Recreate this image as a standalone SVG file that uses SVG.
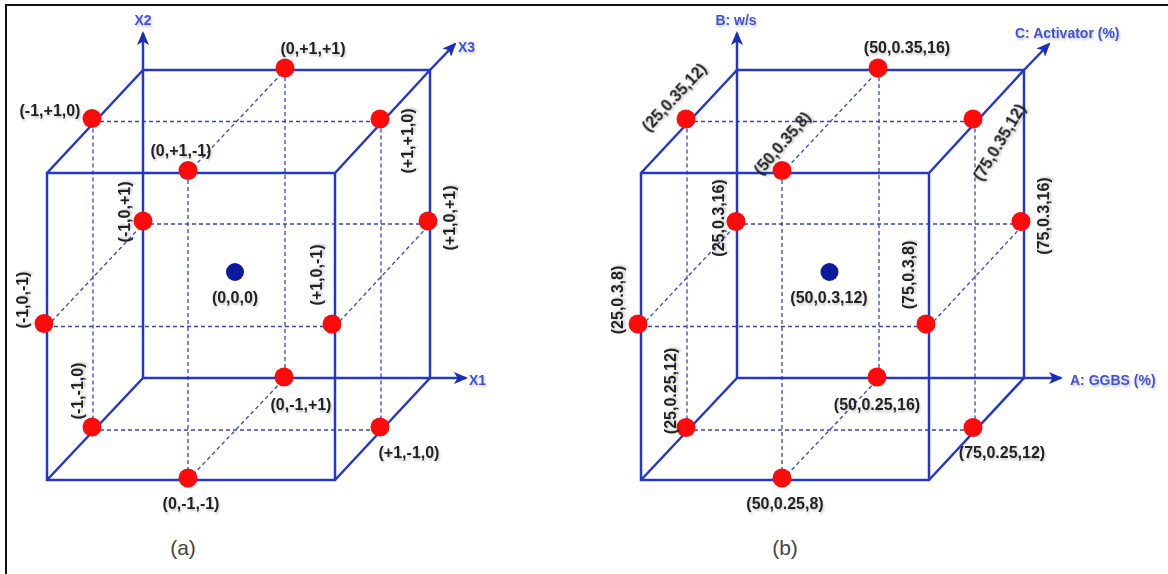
<svg xmlns="http://www.w3.org/2000/svg" width="1168" height="574" viewBox="0 0 1168 574">
  <style>
    .edge { stroke: #2438c8; stroke-width: 2.5; fill: none; stroke-linecap: round; }
    .axis { stroke: #2438c8; stroke-width: 2.5; fill: none; marker-end: url(#arrow); }
    .grid { stroke: #3545c0; stroke-width: 1.3; stroke-dasharray: 4 3; fill: none; }
    .pt { fill: #ff0a0a; }
    .mid { fill: #0c1a9c; }
    .lbl { font-family: "Liberation Sans", Arial, sans-serif; font-size: 16px; font-weight: bold; fill: #222; text-anchor: middle; filter: url(#soft); }
    .ax { font-family: "Liberation Sans", Arial, sans-serif; font-size: 14px; font-weight: bold; fill: #3f51d9; filter: url(#soft); }
    .cap { font-family: "Liberation Sans", Arial, sans-serif; font-size: 21px; fill: #444; text-anchor: middle; }
  </style>
  <defs>
    <marker id="arrow" viewBox="0 0 14 12" refX="12" refY="6" markerWidth="14" markerHeight="12" markerUnits="userSpaceOnUse" orient="auto">
      <path d="M0,0 L14,6 L0,12 L3.5,6 z" fill="#1a2db8"/>
    </marker>
    <filter id="soft" x="-20%" y="-40%" width="140%" height="200%">
      <feDropShadow dx="1" dy="2" stdDeviation="1.2" flood-color="#000" flood-opacity="0.22"/>
    </filter>
  </defs>

  <rect width="1168" height="574" fill="#fff"/>
  <!-- outer frame: left and top rules -->
  <path d="M6,574 L6,5 L1168,5" fill="none" stroke="#111" stroke-width="2"/>

  <!-- ===== cube (a) ===== -->
  <g id="connectors-a">
    <g class="grid">
      <line x1="93" y1="121.5" x2="381" y2="121.5"/>
      <line x1="143" y1="224" x2="430" y2="224"/>
      <line x1="47" y1="326.5" x2="335" y2="326.5"/>
      <line x1="93" y1="430" x2="381" y2="430"/>
      <line x1="93" y1="121.5" x2="93" y2="430"/>
      <line x1="381" y1="121.5" x2="381" y2="430"/>
      <line x1="188" y1="173" x2="188" y2="480"/>
      <line x1="285" y1="70" x2="285" y2="378"/>
      <line x1="188" y1="173" x2="285" y2="70"/>
      <line x1="47" y1="326.5" x2="143" y2="224"/>
      <line x1="335" y1="326.5" x2="430" y2="224"/>
      <line x1="188" y1="480" x2="285" y2="378"/>
    </g>
    <path class="edge" d="M143,70 H430 V378 H143 Z M47,173 H335 V480 H47 Z M47,173 L143,70 M335,173 L430,70 M47,480 L143,378 M335,480 L430,378"/>
    <line class="axis" x1="143" y1="70" x2="143" y2="33"/>
    <line class="axis" x1="430" y1="70" x2="455" y2="44"/>
    <line class="axis" x1="430" y1="378" x2="466" y2="378"/>
  </g>
  <g id="axis-labels-a">
    <text class="ax" x="143" y="25" text-anchor="middle">X2</text>
    <text class="ax" x="458" y="52">X3</text>
    <text class="ax" x="469" y="385">X1</text>
  </g>

  <g id="a-0p1p1"><circle class="pt" cx="285" cy="68" r="9.5"/><text class="lbl" x="313" y="53.5">(0,+1,+1)</text></g>
  <g id="a-m1p10"><circle class="pt" cx="92" cy="118.5" r="9.5"/><text class="lbl" x="50" y="115.5">(-1,+1,0)</text></g>
  <g id="a-p1p10"><circle class="pt" cx="380" cy="119" r="9.5"/><text class="lbl" transform="translate(407,141) rotate(-90)" y="5.5">(+1,+1,0)</text></g>
  <g id="a-0p1m1"><circle class="pt" cx="188" cy="170.5" r="9.5"/><text class="lbl" x="181" y="155.5">(0,+1,-1)</text></g>
  <g id="a-m10p1"><circle class="pt" cx="143" cy="221" r="9.5"/><text class="lbl" transform="translate(124,212) rotate(-90)" y="5.5">(-1,0,+1)</text></g>
  <g id="a-p10p1"><circle class="pt" cx="428" cy="221" r="9.5"/><text class="lbl" transform="translate(449,218) rotate(-90)" y="5.5">(+1,0,+1)</text></g>
  <g id="a-m10m1"><circle class="pt" cx="44" cy="323.5" r="9.5"/><text class="lbl" transform="translate(22,300) rotate(-90)" y="5.5">(-1,0,-1)</text></g>
  <g id="a-p10m1"><circle class="pt" cx="332" cy="324" r="9.5"/><text class="lbl" transform="translate(316,275) rotate(-90)" y="5.5">(+1,0,-1)</text></g>
  <g id="a-0m1p1"><circle class="pt" cx="284" cy="377" r="9.5"/><text class="lbl" x="301" y="409.5">(0,-1,+1)</text></g>
  <g id="a-m1m10"><circle class="pt" cx="92" cy="427" r="9.5"/><text class="lbl" transform="translate(77,391) rotate(-90)" y="5.5">(-1,-1,0)</text></g>
  <g id="a-p1m10"><circle class="pt" cx="380" cy="427" r="9.5"/><text class="lbl" x="409" y="457.5">(+1,-1,0)</text></g>
  <g id="a-0m1m1"><circle class="pt" cx="188" cy="478" r="9.5"/><text class="lbl" x="191" y="508.5">(0,-1,-1)</text></g>
  <g id="a-000"><circle class="mid" cx="235" cy="272" r="9"/><text class="lbl" x="235" y="302.5">(0,0,0)</text></g>
  <text class="cap" x="183" y="555">(a)</text>

  <!-- ===== cube (b) ===== -->
  <g id="connectors-b">
    <g class="grid">
      <line x1="687" y1="121.5" x2="975" y2="121.5"/>
      <line x1="737" y1="224" x2="1024" y2="224"/>
      <line x1="641" y1="326.5" x2="929" y2="326.5"/>
      <line x1="687" y1="430" x2="975" y2="430"/>
      <line x1="687" y1="121.5" x2="687" y2="430"/>
      <line x1="975" y1="121.5" x2="975" y2="430"/>
      <line x1="782" y1="173" x2="782" y2="480"/>
      <line x1="879" y1="70" x2="879" y2="378"/>
      <line x1="782" y1="173" x2="879" y2="70"/>
      <line x1="641" y1="326.5" x2="737" y2="224"/>
      <line x1="929" y1="326.5" x2="1024" y2="224"/>
      <line x1="782" y1="480" x2="879" y2="378"/>
    </g>
    <path class="edge" d="M737,70 H1024 V378 H737 Z M641,173 H929 V480 H641 Z M641,173 L737,70 M929,173 L1024,70 M641,480 L737,378 M929,480 L1024,378"/>
    <line class="axis" x1="737" y1="70" x2="737" y2="33"/>
    <line class="axis" x1="1024" y1="70" x2="1049" y2="44"/>
    <line class="axis" x1="1024" y1="378" x2="1061" y2="378"/>
  </g>
  <g id="axis-labels-b">
    <text class="ax" x="736" y="25" text-anchor="middle">B: w/s</text>
    <text class="ax" x="1015" y="38">C: Activator (%)</text>
    <text class="ax" x="1070" y="385">A: GGBS (%)</text>
  </g>

  <g id="b-50-035-16"><circle class="pt" cx="878" cy="68" r="9.5"/><text class="lbl" x="907" y="52.5">(50,0.35,16)</text></g>
  <g id="b-25-035-12"><circle class="pt" cx="686" cy="119" r="9.5"/><text class="lbl" transform="translate(674,97) rotate(-47)" y="5.5">(25,0.35,12)</text></g>
  <g id="b-75-035-12"><circle class="pt" cx="973" cy="119" r="9.5"/><text class="lbl" transform="translate(999,142) rotate(-59)" y="5.5">(75,0.35,12)</text></g>
  <g id="b-50-035-8"><circle class="pt" cx="782" cy="170.5" r="9.5"/><text class="lbl" transform="translate(782,143) rotate(-49)" y="5.5">(50,0.35,8)</text></g>
  <g id="b-25-03-16"><circle class="pt" cx="736" cy="221.5" r="9.5"/><text class="lbl" transform="translate(718,218) rotate(-90)" y="5.5">(25,0.3,16)</text></g>
  <g id="b-75-03-16"><circle class="pt" cx="1021" cy="221.5" r="9.5"/><text class="lbl" transform="translate(1043,216) rotate(-90)" y="5.5">(75,0.3,16)</text></g>
  <g id="b-25-03-8"><circle class="pt" cx="638" cy="324" r="9.5"/><text class="lbl" transform="translate(617,300) rotate(-90)" y="5.5">(25,0.3,8)</text></g>
  <g id="b-75-03-8"><circle class="pt" cx="926" cy="324" r="9.5"/><text class="lbl" transform="translate(908,275) rotate(-90)" y="5.5">(75,0.3,8)</text></g>
  <g id="b-50-025-16"><circle class="pt" cx="877" cy="377" r="9.5"/><text class="lbl" x="877" y="409.5">(50,0.25,16)</text></g>
  <g id="b-25-025-12"><circle class="pt" cx="686" cy="427.5" r="9.5"/><text class="lbl" transform="translate(670,391) rotate(-90)" y="5.5">(25,0.25,12)</text></g>
  <g id="b-75-025-12"><circle class="pt" cx="973" cy="427.5" r="9.5"/><text class="lbl" x="1002" y="457.5">(75,0.25,12)</text></g>
  <g id="b-50-025-8"><circle class="pt" cx="782" cy="478" r="9.5"/><text class="lbl" x="785" y="508.5">(50,0.25,8)</text></g>
  <g id="b-50-03-12"><circle class="mid" cx="829.5" cy="272" r="9"/><text class="lbl" x="829" y="302.5">(50,0.3,12)</text></g>
  <text class="cap" x="785" y="555">(b)</text>
</svg>
